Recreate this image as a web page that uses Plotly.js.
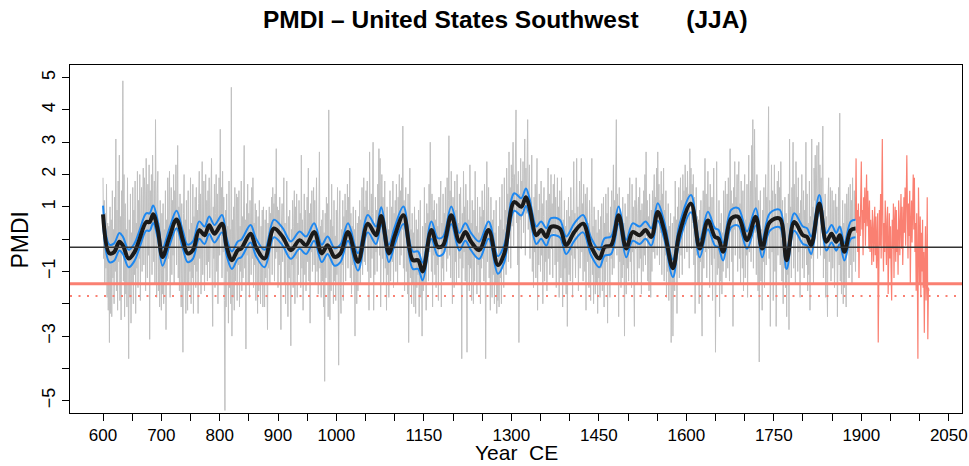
<!DOCTYPE html>
<html>
<head>
<meta charset="utf-8">
<script src="https://cdn.plot.ly/plotly-3.0.1.min.js"></script>
<style>html,body{margin:0;padding:0;background:#fff}#chart{width:969px;height:466px}</style>
</head>
<body>
<div id="chart"></div>
<script>
// ---------------- DATA ----------------
const reconStartYear = 600;
const reconPMDI = [
1.9,-0.6,1.2,-1.4,0.8,-0.9,1.7,-1.8,0.5,-2.2,
0.4,-3.2,1.0,-2.3,0.6,-2.4,1.5,-1.2,0.3,-2.0,
1.3,-1.0,3.1,-1.6,0.9,-2.2,1.8,-0.7,2.6,-1.9,
0.7,-2.5,1.5,-0.4,4.9,-1.3,2.0,-2.4,1.1,-1.7,
0.3,-2.1,1.9,-1.2,-3.7,0.6,-1.8,1.4,-2.6,0.2,
-1.4,1.6,-2.0,0.9,-1.1,1.8,-2.3,0.5,-0.9,2.1,
-1.5,1.2,-0.6,2.0,-1.9,0.8,1.6,-1.0,0.4,2.2,
-0.8,1.9,1.4,-1.6,2.5,0.2,-1.2,1.7,-0.5,2.3,
-3.1,1.5,0.3,2.0,-1.1,2.6,0.9,-0.7,1.8,-1.4,
3.7,0.2,-1.8,1.4,2.1,-1.6,0.5,-2.1,1.2,-0.9,
-2.2,0.8,-1.7,1.1,-2.0,0.3,-0.9,1.5,-2.8,0.6,
-1.3,1.9,-0.6,0.9,2.1,-1.8,0.4,1.6,-1.1,1.2,
-0.5,2.0,-1.4,1.5,0.6,2.3,-0.8,1.8,2.9,-1.2,
1.0,-1.6,1.4,-0.2,-2.1,1.1,-1.3,-3.5,0.8,2.0,
-1.4,0.6,-2.3,1.2,-0.8,-2.2,1.5,-1.6,0.3,-1.0,
1.9,-2.0,0.5,-1.2,1.7,-2.3,0.7,-0.8,1.3,-1.5,
1.6,-1.0,0.9,-2.3,1.1,2.1,-0.6,1.4,-1.7,0.8,
2.4,-1.1,0.5,1.8,-1.6,0.9,2.0,-0.8,1.2,-1.3,
1.5,-0.7,1.9,-1.2,0.6,1.3,2.5,-0.9,-2.7,1.0,
-0.6,1.7,-1.5,0.8,2.0,-1.0,1.4,-2.0,0.7,1.9,
-0.5,3.4,0.2,1.6,-1.2,2.1,-0.4,1.3,-1.9,-5.3,
0.9,-2.1,1.4,-1.0,0.4,-2.6,1.8,-1.5,0.3,-2.0,
4.7,-3.0,0.6,-1.8,1.0,-2.2,1.6,-1.3,0.2,1.4,
-1.9,1.3,-0.8,1.5,-2.1,0.4,-1.0,1.8,-1.6,0.7,
-1.2,1.4,2.9,-0.9,0.6,-3.4,1.1,-0.5,1.7,-1.4,
0.8,-1.8,1.2,0.2,-1.1,1.6,-0.6,1.9,-1.5,0.5,
-0.8,1.1,-1.9,0.9,-1.2,-2.3,0.7,-1.6,1.2,-0.9,
-2.0,0.4,-1.4,0.9,-2.1,1.0,-1.6,-2.1,0.6,-1.2,
0.9,-1.7,-2.8,0.5,-0.9,1.0,-1.4,0.8,-0.3,1.3,
-1.1,1.6,0.2,1.1,-1.3,1.4,-0.6,2.8,-0.4,1.0,
-1.5,0.9,-0.8,1.3,-1.9,-2.8,0.4,1.1,-0.7,0.6,
1.9,-1.4,0.5,-2.0,1.6,1.8,-0.6,-2.4,0.7,-1.2,
0.9,-1.7,-3.3,0.3,-0.8,1.2,-1.5,0.4,1.5,-2.0,
1.0,-0.6,1.4,-1.8,0.5,-1.1,1.2,-0.3,0.8,-1.5,
2.6,-0.9,0.6,-2.2,0.3,1.4,-1.1,0.9,-1.6,0.4,
1.3,-0.7,2.2,-1.3,0.8,-2.6,1.1,-0.4,1.5,-1.0,
0.7,1.6,-0.8,1.2,-1.4,0.5,1.9,-1.0,0.3,-1.7,
1.0,2.7,-0.9,0.4,-1.8,0.6,-1.3,0.9,-2.1,0.2,
-4.4,0.8,-1.2,1.3,-0.5,1.1,-2.4,4.0,-0.7,-2.5,
0.6,-1.6,1.7,-0.8,0.4,-2.0,1.2,-1.3,0.1,-1.9,
0.9,-1.1,1.6,-0.6,-3.9,0.5,1.5,-1.5,-2.3,0.3,
-0.8,1.2,-1.9,0.7,-0.4,1.4,-1.3,0.9,-0.2,1.7,
-0.9,1.3,0.1,2.2,-1.2,0.8,-1.7,0.4,-0.8,1.0,
-1.4,0.3,-3.0,0.9,-1.2,-2.0,0.5,-1.6,0.7,-0.9,
1.2,-1.4,0.6,-0.5,1.6,-1.1,0.4,1.9,-0.7,1.0,
-0.8,1.5,0.3,1.8,-1.0,0.9,-2.2,2.7,0.4,-1.2,
1.4,-0.6,0.8,3.0,-2.2,0.5,-1.1,1.3,-0.4,0.9,
-1.0,1.7,0.2,2.8,-0.5,2.5,-2.1,1.1,2.0,-0.6,
1.3,-1.4,0.7,1.8,-0.9,0.4,-2.2,1.0,-1.1,0.3,
-1.8,0.6,1.5,-1.3,0.2,1.0,-0.7,1.8,-1.5,0.8,
-0.3,1.2,-1.0,1.7,0.4,-1.4,1.3,0.6,2.0,-0.8,
1.5,-0.5,1.9,0.3,3.5,-0.9,1.2,-1.6,0.8,1.6,
-1.0,0.7,-1.7,1.4,-3.2,0.5,2.2,-1.2,0.3,-2.0,
0.8,-1.4,0.2,-2.1,1.0,-0.9,-2.3,0.6,-1.5,0.3,
-1.1,0.9,-2.4,-0.5,1.2,-1.8,-0.7,-3.0,0.4,-1.6,
-0.9,1.6,-1.4,0.5,-2.2,1.1,-0.6,0.8,-1.3,1.7,
-0.4,3.0,0.3,-1.0,1.4,-2.1,0.9,-0.5,1.2,-1.1,
0.6,-1.5,1.1,-0.8,0.4,-1.9,1.3,-0.3,0.7,1.8,
-2.1,0.5,-0.9,1.4,-1.3,0.8,-0.4,1.6,0.2,-1.0,
1.9,-0.6,1.2,3.2,-0.5,1.5,-1.2,2.1,0.3,-2.0,
1.3,0.6,-1.5,1.8,-0.7,0.9,-1.4,2.0,-0.3,0.5,
-1.2,1.4,-0.6,1.6,0.1,-3.7,0.8,-0.9,2.1,-0.4,
1.0,-1.3,1.7,0.3,-3.5,1.2,-0.8,0.6,-1.6,2.3,
-0.9,0.5,-1.9,1.2,-0.6,-2.0,0.9,-1.3,2.1,-0.5,
0.4,-1.7,1.3,-0.8,0.2,-1.4,1.0,-2.0,0.7,-0.9,
1.5,-0.6,0.9,-1.3,1.7,0.1,-3.7,1.1,2.4,-0.7,
0.8,1.6,-1.2,0.5,-2.2,1.3,-0.4,-1.8,0.6,-1.1,
0.9,-2.0,0.2,-1.4,1.2,-2.3,-0.6,-1.9,0.4,-2.1,
1.3,-1.2,0.6,-2.0,1.7,-0.8,0.3,-1.5,1.9,-0.4,
0.9,-1.1,2.2,0.5,1.4,-0.7,2.7,0.6,1.6,-0.9,
2.3,0.4,1.9,3.0,-0.2,2.0,0.9,2.4,4.0,0.5,
1.7,-0.8,2.1,-3.2,1.4,0.6,2.5,-0.3,1.8,0.9,
2.4,0.2,1.6,3.1,-0.5,2.2,0.8,1.9,3.7,0.3,
1.5,2.3,-0.6,1.2,0.4,2.6,-1.0,0.8,-1.5,1.3,
-0.4,1.7,-1.2,0.6,2.5,-2.2,0.9,-0.8,1.4,0.1,
-1.0,1.8,-0.5,1.1,-2.0,0.7,1.6,-1.3,0.4,-0.7,
1.2,-1.6,0.8,2.2,-0.6,1.4,-1.1,0.9,2.0,-0.3,
1.1,-1.2,1.7,0.2,2.0,-0.8,1.3,-1.5,0.6,1.9,
-0.7,1.0,-1.8,1.5,0.3,-1.2,1.9,-0.4,-2.1,0.6,
-1.4,1.2,-0.9,0.4,-1.7,0.9,-2.7,0.2,1.3,-1.1,
0.7,-1.3,1.6,-0.5,0.9,-1.8,1.1,2.4,-0.6,0.8,
-1.2,1.5,2.5,-0.3,1.0,-1.6,0.7,1.8,-0.9,1.3,
2.5,-0.4,1.1,-1.3,1.7,0.3,-1.0,1.4,-2.2,0.9,
1.6,-0.7,0.5,-1.5,1.2,-0.2,-1.9,0.8,2.5,-1.1,
0.4,-2.0,1.0,-0.8,-1.7,0.6,-1.4,0.2,-2.3,0.9,
-1.2,0.3,-1.8,0.7,-0.9,1.1,-1.6,-0.4,1.3,-2.1,
0.5,-1.3,1.4,-0.7,0.8,-2.6,1.6,-0.5,0.2,-1.8,
1.0,-0.6,1.5,-1.1,0.4,2.3,-0.9,1.2,-0.3,1.9,
3.7,-0.5,1.4,0.2,-2.4,1.6,-0.7,0.9,-1.5,0.6,
-1.2,1.3,-0.8,0.5,-3.0,1.1,-0.4,-1.7,0.7,-0.9,
1.4,-1.3,0.6,1.9,-0.7,0.3,-1.5,1.7,-0.4,1.0,
-1.1,-2.7,1.2,-0.3,1.9,0.4,-1.4,0.8,1.3,-0.9,
1.6,-0.6,0.9,-1.7,1.1,0.2,-1.0,1.5,-0.5,2.0,
-0.8,2.7,0.1,1.2,-1.3,0.7,-1.6,1.4,-0.3,-1.8,
0.9,-1.0,1.5,-0.4,1.1,2.0,-0.6,1.3,0.3,2.2,
-0.5,2.7,0.6,1.7,-0.8,1.2,0.2,2.1,-1.1,1.4,
0.4,2.2,-1.3,0.9,-0.5,1.5,-1.8,0.3,-1.0,1.1,
-1.9,0.4,-1.4,0.8,-3.2,-0.6,0.5,-3.0,-0.9,0.7,
-1.6,1.8,-0.7,0.6,-2.3,1.0,-0.2,1.6,-1.2,0.8,
1.9,-0.5,1.2,-1.1,2.0,0.3,1.5,-0.6,2.3,0.7,
1.6,-0.4,2.1,0.8,1.4,-0.9,2.8,1.0,2.2,-0.3,
1.7,0.5,2.0,-0.8,1.3,-2.3,0.9,1.6,-0.5,0.7,
-1.4,0.6,-2.0,0.9,-0.7,1.2,-1.6,-3.0,0.4,1.5,
-0.9,1.1,2.5,-0.4,1.4,-1.2,0.8,2.1,-0.3,1.0,
-1.5,1.7,0.2,-0.8,1.3,-1.9,0.6,2.2,-0.6,0.4,
-3.5,0.7,2.4,-1.1,0.3,-0.9,1.2,-2.4,0.5,-1.3,
0.8,-1.7,0.2,-1.0,1.5,-0.6,0.9,1.8,-1.2,0.6,
1.4,-0.9,1.9,0.4,-1.3,2.8,0.6,1.5,-0.7,1.1,
-2.7,1.6,0.3,2.4,-0.5,1.3,0.8,2.0,-1.0,1.7,
2.4,-0.6,1.1,-1.4,1.8,0.4,-0.9,1.5,-1.6,0.8,
2.0,-1.2,0.6,-0.5,1.7,-1.8,1.0,2.6,-0.4,0.9,
1.8,-0.7,2.9,0.5,3.7,-0.9,1.4,3.4,0.2,1.6,
-1.1,2.0,0.4,-1.6,1.2,-3.8,0.6,1.5,-1.3,0.3,
-2.2,0.9,-0.7,1.6,-1.5,0.5,2.0,-0.8,1.3,-0.2,
1.7,4.1,-0.6,1.2,-2.7,0.8,2.3,-0.4,1.5,-1.9,
0.7,2.3,-1.0,1.4,-2.7,0.9,1.8,-0.5,2.1,0.3,
1.6,-0.8,2.4,0.1,-1.3,1.2,-2.0,0.6,-0.9,1.3,
-1.5,0.8,-2.4,0.5,-1.1,1.4,-2.8,3.1,-0.3,1.0,
-1.2,1.6,0.4,3.0,-0.9,1.7,0.2,-1.4,2.4,0.6,
1.3,-1.0,1.9,-0.4,0.8,-1.8,1.2,0.3,2.0,-0.9,
0.6,1.5,-1.2,0.9,-0.3,3.0,-0.8,1.4,-1.6,0.5,
-1.1,1.8,-2.2,0.7,-0.6,3.1,-0.5,1.0,-1.4,2.2,
1.2,2.6,0.4,1.8,2.9,-0.6,1.5,3.0,0.8,2.3,
-0.5,1.9,0.3,2.4,3.5,-1.2,0.9,-0.6,1.4,-1.8,
0.7,-1.0,-2.4,1.2,1.9,-0.7,0.4,1.6,-1.3,0.8,
1.5,-0.9,0.3,1.2,-1.5,0.6,1.4,-0.4,1.0,-2.4,
0.9,1.6,-0.8,3.9,-1.3,0.4,-1.7,0.8,1.2,-2.0,
0.5,-1.5,1.1,-0.6,-2.1,1.4,-0.3,0.9,1.6,-1.2,
0.4,1.7,-0.8,1.2,-1.4,1.9,0.2,-0.7,1.5,0.6,
-1.0,1.3,0.4
];

const instrStartYear = 1890;
const instrPMDI = [
0.6,2.5,0.2,0.9,-0.4,1.1,-1.2,0.7,0.1,1.5,
2.4,0.3,0.9,-0.5,1.3,0.5,1.6,-0.2,1.0,2.0,
0.4,1.5,0.8,-0.3,1.2,-0.4,0.6,0.2,-0.8,0.9,
0.5,-0.7,0.3,1.0,-0.5,0.7,-0.9,0.4,0.8,-3.2,
0.3,0.9,-0.2,1.4,-0.6,0.8,3.1,0.2,-1.0,0.5,
-0.4,1.2,0.3,-0.8,0.6,1.0,-1.7,0.1,0.8,-0.6,
0.4,-0.9,-1.9,0.6,-0.3,1.1,-1.2,0.5,1.0,-0.7,
0.9,-0.4,0.3,-1.1,1.2,0.6,-0.5,0.8,1.4,-0.3,
1.0,-0.8,0.5,1.3,0.2,1.6,-0.2,0.7,2.6,0.9,
-0.6,1.1,0.1,1.5,-1.4,0.4,1.2,-0.1,0.8,2.0,
0.3,1.9,-0.4,0.5,-1.6,0.8,-0.9,-3.7,1.6,-0.5,
-1.4,0.7,-1.8,0.2,-1.0,0.6,-1.5,-0.4,-2.9,-0.8,
0.4,-1.9,-1.2,1.3,-3.1,-1.5,-1.6
];

// smoothed reconstruction (black) and its uncertainty band (blue)
const smoothYears = [600,611,619,628,634,644,654,662,674,680,686,694,702,714,726,737,745,754,765,774,782,791,804,812,821,831,837,853,862,877,893,908,922,937,948,962,975,985,997,1007,1020,1037,1054,1068,1077,1090,1100,1115,1131,1140,1148,1163,1174,1183,1197,1211,1221,1231,1245,1261,1277,1288,1305,1317,1325,1331,1343,1351,1360,1368,1383,1394,1408,1423,1437,1451,1460,1471,1484,1497,1508,1520,1530,1540,1551,1562,1577,1588,1608,1623,1637,1649,1655,1663,1677,1689,1704,1719,1730,1743,1760,1772,1785,1800,1807,1814,1828,1840,1849,1857,1863,1871,1882,1890];
const smoothPMDI = [0.77,-0.44,-0.40,-0.08,-0.19,-0.60,-0.40,-0.03,0.53,0.53,0.77,0.28,-0.55,0.07,0.61,-0.03,-0.44,-0.34,0.28,0.12,0.43,0.17,0.48,-0.24,-0.65,-0.34,-0.29,0.17,-0.24,-0.60,0.33,0.07,-0.34,-0.03,-0.19,0.22,-0.44,-0.19,-0.55,-0.44,0.22,-0.70,0.48,0.12,0.72,-0.44,0.10,0.74,-0.65,-0.65,-1.00,0.28,-0.24,-0.19,0.74,-0.08,0.22,-0.08,-0.34,0.28,-0.80,-0.44,1.15,1.00,1.30,1.00,0.12,0.28,0.07,0.38,0.33,-0.19,0.22,0.48,-0.24,-0.60,-0.24,-0.19,0.74,-0.29,0.22,0.12,0.28,0.07,0.84,0.28,-0.90,0.17,1.10,-0.29,0.58,0.07,0.02,-0.39,0.64,0.69,-0.03,0.69,-0.29,0.53,0.64,-0.65,0.53,0.12,0.07,-0.19,1.10,-0.08,0.17,-0.08,0.12,-0.39,0.28,0.33];
const bandUpper = [1.04,-0.17,-0.13,0.19,0.08,-0.33,-0.13,0.24,0.80,0.80,1.04,0.55,-0.28,0.34,0.88,0.24,-0.17,-0.07,0.55,0.39,0.70,0.44,0.75,0.03,-0.38,-0.07,-0.02,0.44,0.03,-0.33,0.60,0.34,-0.07,0.24,0.08,0.49,-0.17,0.08,-0.28,-0.17,0.49,-0.43,0.75,0.39,0.99,-0.17,0.37,1.01,-0.38,-0.38,-0.73,0.55,0.03,0.08,1.01,0.19,0.49,0.19,-0.07,0.55,-0.53,-0.17,1.42,1.27,1.57,1.27,0.39,0.55,0.34,0.65,0.60,0.08,0.49,0.75,0.03,-0.33,0.03,0.08,1.01,-0.02,0.49,0.39,0.55,0.34,1.11,0.55,-0.63,0.44,1.37,-0.02,0.85,0.34,0.29,-0.12,0.91,0.96,0.24,0.96,-0.02,0.80,0.91,-0.38,0.80,0.39,0.34,0.08,1.37,0.19,0.44,0.19,0.39,-0.12,0.55,0.60];
const bandLower = [0.50,-0.71,-0.67,-0.35,-0.46,-0.87,-0.67,-0.30,0.26,0.26,0.50,0.01,-0.82,-0.20,0.34,-0.30,-0.71,-0.61,0.01,-0.15,0.16,-0.10,0.21,-0.51,-0.92,-0.61,-0.56,-0.10,-0.51,-0.87,0.06,-0.20,-0.61,-0.30,-0.46,-0.05,-0.71,-0.46,-0.82,-0.71,-0.05,-0.97,0.21,-0.15,0.45,-0.71,-0.17,0.47,-0.92,-0.92,-1.27,0.01,-0.51,-0.46,0.47,-0.35,-0.05,-0.35,-0.61,0.01,-1.07,-0.71,0.88,0.73,1.03,0.73,-0.15,0.01,-0.20,0.11,0.06,-0.46,-0.05,0.21,-0.51,-0.87,-0.51,-0.46,0.47,-0.56,-0.05,-0.15,0.01,-0.20,0.57,0.01,-1.17,-0.10,0.83,-0.56,0.31,-0.20,-0.25,-0.66,0.37,0.42,-0.30,0.42,-0.56,0.26,0.37,-0.92,0.26,-0.15,-0.20,-0.46,0.83,-0.35,-0.10,-0.35,-0.15,-0.66,0.01,0.06];

// reference levels
const meanLevel = -0.25;
const droughtLevel = -1.38;
const severeLevel = -1.76;

// axes
const xTickVals = [600,650,700,750,800,850,900,950,1000,1050,1100,1150,1200,1250,1300,1350,1400,1450,1500,1550,1600,1650,1700,1750,1800,1850,1900,1950,2000,2050];
const xTickText = ['600','','700','','800','','900','','1000','','','1150','','','1300','','','1450','','','1600','','','1750','','','1900','','','2050'];
const yTickVals = [-5,-4,-3,-2,-1,0,1,2,3,4,5];
const yTickText = ['\u22125','','\u22123','','\u22121','','1','2','3','4','5'];
const xTitle = 'Year\u00a0\u00a0CE';
const yTitle = 'PMDI';
const chartTitle = 'PMDI \u2013 United States Southwest\u00a0\u00a0\u00a0\u00a0\u00a0\u00a0\u00a0(JJA)';

// ---------------- PLOT ----------------
const reconYears = reconPMDI.map((_, i) => reconStartYear + i);
const instrYears = instrPMDI.map((_, i) => instrStartYear + i);

const FONT = 'Liberation Sans, Arial, Helvetica, sans-serif';

const traces = [
  {x: reconYears, y: reconPMDI, type: 'scatter', mode: 'lines',
   line: {color: '#c0c0c0', width: 1}, hoverinfo: 'skip'},
  {x: instrYears, y: instrPMDI, type: 'scatter', mode: 'lines',
   line: {color: '#fa8072', width: 1.2}, hoverinfo: 'skip'},
  {x: smoothYears, y: bandUpper, type: 'scatter', mode: 'lines',
   line: {color: '#1e88f0', width: 2, shape: 'spline', smoothing: 1}, hoverinfo: 'skip'},
  {x: smoothYears, y: bandLower, type: 'scatter', mode: 'lines',
   line: {color: '#1e88f0', width: 2, shape: 'spline', smoothing: 1}, hoverinfo: 'skip'},
  {x: smoothYears, y: smoothPMDI, type: 'scatter', mode: 'lines',
   line: {color: '#1a1a1a', width: 4, shape: 'spline', smoothing: 1}, hoverinfo: 'skip'}
];

const layout = {
  width: 969, height: 466,
  margin: {l: 70, r: 7, t: 65, b: 53},
  paper_bgcolor: '#ffffff', plot_bgcolor: '#ffffff',
  showlegend: false,
  font: {family: FONT, color: '#000', size: 18},
  title: {
    text: '<b>' + chartTitle + '</b>',
    font: {family: FONT, size: 24.5, color: '#000'},
    x: 0.488, xref: 'paper', xanchor: 'center',
    y: 0.958, yref: 'container', yanchor: 'middle'
  },
  xaxis: {
    range: [543.4, 2072.6], autorange: false,
    tickmode: 'array', tickvals: xTickVals, ticktext: xTickText,
    ticks: 'outside', ticklen: 7, tickwidth: 1, tickcolor: '#000',
    showline: true, linecolor: '#000', linewidth: 1, mirror: true,
    showgrid: false, zeroline: false,
    tickfont: {family: FONT, size: 17, color: '#000'}
  },
  yaxis: {
    range: [-5.38, 5.39], autorange: false,
    tickmode: 'array', tickvals: yTickVals, ticktext: yTickText,
    tickangle: -90,
    ticks: 'outside', ticklen: 7, tickwidth: 1, tickcolor: '#000',
    showline: true, linecolor: '#000', linewidth: 1, mirror: true,
    showgrid: false, zeroline: false,
    tickfont: {family: FONT, size: 18, color: '#000'}
  },
  annotations: [
    {text: xTitle, xref: 'paper', yref: 'paper', x: 0.5, y: -0.151,
     xanchor: 'center', yanchor: 'bottom', showarrow: false,
     font: {family: FONT, size: 21, color: '#000'}},
    {text: yTitle, xref: 'paper', yref: 'paper', x: -0.0555, y: 0.5,
     xanchor: 'center', yanchor: 'middle', showarrow: false, textangle: -90,
     font: {family: FONT, size: 23, color: '#000'}}
  ],
  shapes: [
    {type: 'line', xref: 'paper', x0: 0, x1: 1, yref: 'y', y0: meanLevel, y1: meanLevel,
     line: {color: '#333333', width: 1.6}, layer: 'above'},
    {type: 'line', xref: 'paper', x0: 0, x1: 1, yref: 'y', y0: droughtLevel, y1: droughtLevel,
     line: {color: '#fa8072', width: 2.8}, layer: 'above'},
    {type: 'line', xref: 'paper', x0: 0, x1: 1, yref: 'y', y0: severeLevel, y1: severeLevel,
     line: {color: '#fa8072', width: 2, dash: '2px,6.5px'}, layer: 'above'}
  ]
};

Plotly.newPlot('chart', traces, layout, {displayModeBar: false, staticPlot: true});
</script>
</body>
</html>
